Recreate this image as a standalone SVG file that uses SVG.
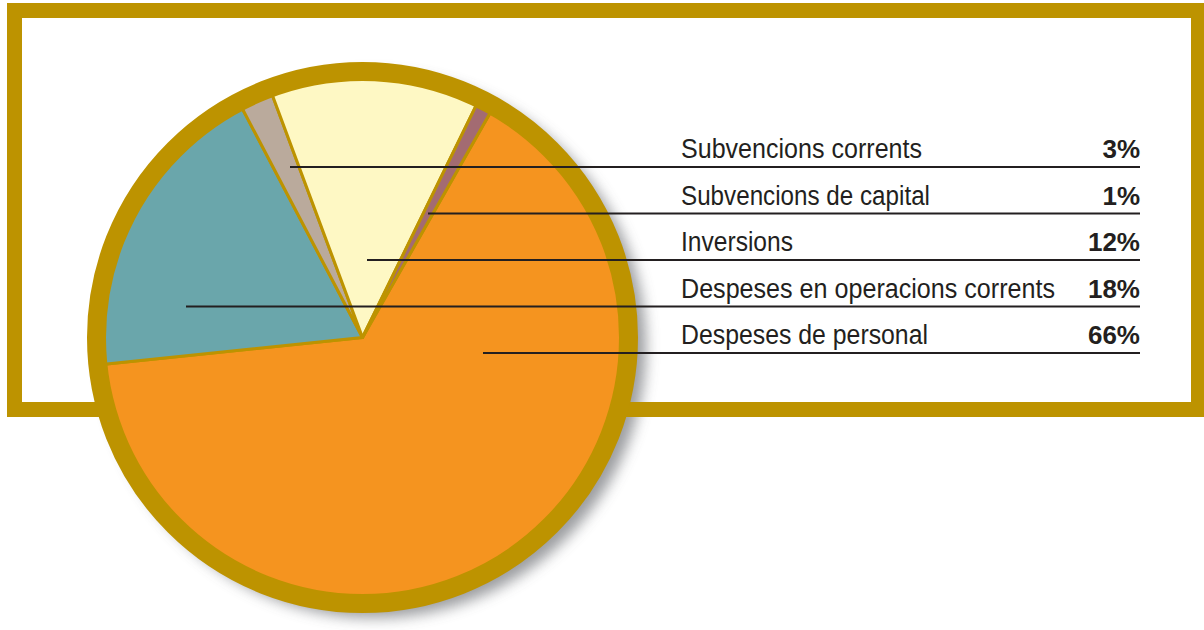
<svg xmlns="http://www.w3.org/2000/svg" width="1204" height="630" viewBox="0 0 1204 630">
<style>
.lbl{font-family:"Liberation Sans",Arial,sans-serif;font-size:27px;fill:#231F20}
.pct{font-family:"Liberation Sans",Arial,sans-serif;font-size:26px;font-weight:bold;fill:#231F20;text-anchor:end}
.lead{stroke:#231F20;stroke-width:2;fill:none}
.slice{stroke:#BD9300;stroke-width:3;stroke-linejoin:round}
</style>
<defs>
<filter id="sh" x="-20%" y="-20%" width="140%" height="140%">
<feGaussianBlur stdDeviation="7"/>
</filter>
</defs>
<rect width="1204" height="630" fill="#FFFFFF"/>
<circle cx="374" cy="346" r="272" fill="#8A8C90" opacity="0.85" filter="url(#sh)"/>
<rect id="frame" x="14.5" y="10.5" width="1184" height="399" fill="none" stroke="#BD9300" stroke-width="15"/>
<g id="pie">
<path id="s-personal" class="slice" fill="#F5941F" d="M362.5,337.5 L491.9,109.7 A262,262 0 1 1 101.9,364.5 Z"/>
<path id="s-operacions" class="slice" fill="#6AA6AB" d="M362.5,337.5 L101.9,364.5 A262,262 0 0 1 240.7,105.5 Z"/>
<path id="s-corrents" class="slice" fill="#BAAA9C" d="M362.5,337.5 L240.7,105.5 A262,262 0 0 1 271.2,91.9 Z"/>
<path id="s-inversions" class="slice" fill="#FEF8C4" d="M362.5,337.5 L271.2,91.9 A262,262 0 0 1 477.8,102.2 Z"/>
<path id="s-capital" class="slice" fill="#A36B72" d="M362.5,337.5 L477.8,102.2 A262,262 0 0 1 491.9,109.7 Z"/>
<circle id="ring" cx="362.5" cy="337.5" r="266" fill="none" stroke="#BD9300" stroke-width="19"/>
</g>
<g id="connectors">
<line class="lead" x1="290" y1="167" x2="1140" y2="167"/>
<line class="lead" x1="428" y1="213.5" x2="1140" y2="213.5"/>
<line class="lead" x1="367" y1="260" x2="1140" y2="260"/>
<line class="lead" x1="186" y1="306.5" x2="1140" y2="306.5"/>
<line class="lead" x1="483" y1="353" x2="1140" y2="353"/>
</g>
<g id="legend-1"><text class="lbl" x="681" y="158" textLength="241" lengthAdjust="spacingAndGlyphs">Subvencions corrents</text><text class="pct" x="1140" y="158">3%</text></g>
<g id="legend-2"><text class="lbl" x="681" y="204.5" textLength="249" lengthAdjust="spacingAndGlyphs">Subvencions de capital</text><text class="pct" x="1140" y="204.5">1%</text></g>
<g id="legend-3"><text class="lbl" x="681" y="251" textLength="112" lengthAdjust="spacingAndGlyphs">Inversions</text><text class="pct" x="1140" y="251">12%</text></g>
<g id="legend-4"><text class="lbl" x="681" y="297.5" textLength="374" lengthAdjust="spacingAndGlyphs">Despeses en operacions corrents</text><text class="pct" x="1140" y="297.5">18%</text></g>
<g id="legend-5"><text class="lbl" x="681" y="344" textLength="247" lengthAdjust="spacingAndGlyphs">Despeses de personal</text><text class="pct" x="1140" y="344">66%</text></g>
</svg>
